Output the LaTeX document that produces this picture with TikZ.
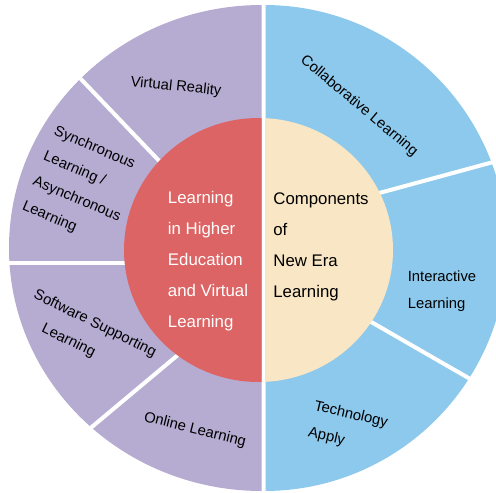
\documentclass[tikz,border=0pt]{standalone}
\usepackage{fontspec}
\setmainfont{Liberation Sans}
\definecolor{lav}{RGB}{182,172,210}
\definecolor{sky}{RGB}{141,201,236}
\definecolor{redc}{RGB}{221,100,100}
\definecolor{cream}{RGB}{248,230,196}
\begin{document}
\begin{tikzpicture}[x=1pt,y=-1pt,
  lbl/.style={font=\fontsize{14.8}{27}\selectfont, align=left, inner sep=0pt},
  ctr/.style={font=\fontsize{16.8}{31}\selectfont, align=left, inner sep=0pt},
  divider/.style={white, line width=4pt}]
\useasboundingbox (0,0) rectangle (496,493);
\fill[white] (0,0) rectangle (496,493);
% outer halves
\begin{scope}
  \clip (0,0) rectangle (261.5,493);
  \fill[lav] (262,248) ellipse[x radius=253, y radius=243];
\end{scope}
\begin{scope}
  \clip (265.5,0) rectangle (496,493);
  \fill[sky] (264,248) circle[radius=243];
\end{scope}
% dividers
\draw[divider] (165,167) -- (78,76);
\draw[divider] (135,263) -- (3,263);
\draw[divider] (185,349) -- (87,431);
\draw[divider] (372,195) -- (497,161);
\draw[divider] (366,319) -- (472,380);
% inner halves
\begin{scope}
  \clip (0,0) rectangle (261.5,493);
  \fill[redc] (258.5,250) ellipse[x radius=134.5, y radius=132];
\end{scope}
\begin{scope}
  \clip (265.5,0) rectangle (496,493);
  \fill[cream] (258.5,250) ellipse[x radius=134.5, y radius=132];
\end{scope}
% labels
\node[lbl, rotate=-6] (vr) at (176,87) {Virtual Reality};
\node[lbl, rotate=-40] (cl) at (359,106) {Collaborative Learning};
\node[lbl, rotate=-23] (sy) at (82,187) {Synchronous\\Learning /\\Asynchronous\\Learning};
\node[lbl, rotate=-26] (sw) at (89,336) {Software Supporting\\\hspace*{22pt}Learning};
\node[lbl, rotate=-14] (ol) at (195,430) {Online Learning};
\node[lbl, rotate=-13] (ta) at (348,428) {Technology\\Apply};
\node[lbl] (il) at (442,291) {Interactive\\Learning};
\node[ctr, text=white] (hl) at (208,261) {Learning\\in Higher\\Education\\and Virtual\\Learning};
\node[ctr] (cn) at (321,247) {Components\\of\\New Era\\Learning};
\end{tikzpicture}
\end{document}
